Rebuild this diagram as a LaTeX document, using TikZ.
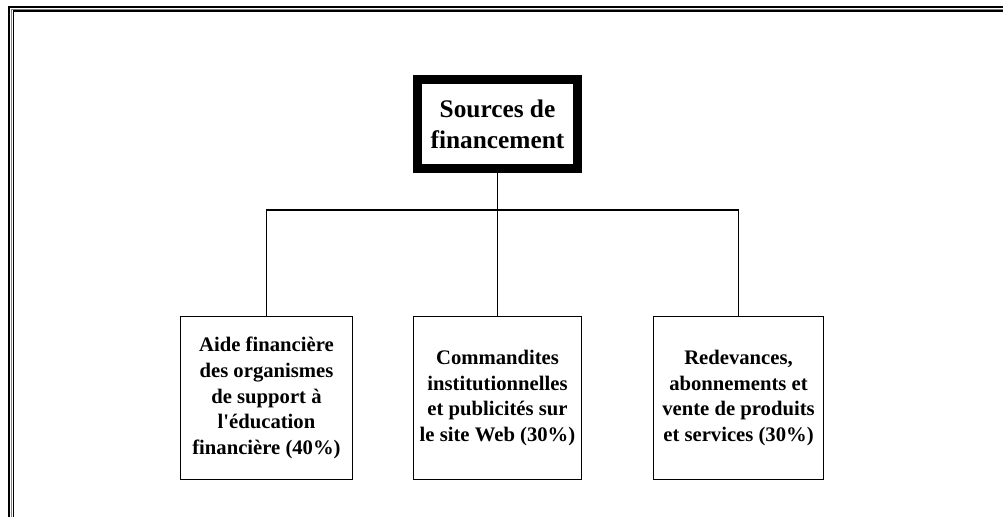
\documentclass[tikz,border=0pt]{standalone}
\usepackage{fontspec}
\setmainfont{Liberation Serif}
\usetikzlibrary{positioning}

\begin{document}
\begin{tikzpicture}[x=0.75pt,y=-0.75pt,
  titre/.style={rectangle,draw,line width=6.75pt,minimum width=120pt,minimum height=66.75pt,inner sep=2pt,align=center,font=\fontsize{19}{23.25}\selectfont\bfseries},
  boite/.style={rectangle,draw,line width=0.8pt,minimum height=122.25pt,inner sep=2pt,align=center,font=\fontsize{15.5}{19.2}\selectfont\bfseries},
  lien/.style={line width=0.8pt}]
\clip (0,0) rectangle (1003,517);
% cadre de la page
\draw[line width=1.6pt] (9,7) rectangle (1030,540);
\draw[gray,line width=0.6pt] (11,9) rectangle (1030,540);
\draw[line width=1.2pt] (13.5,11) rectangle (1030,540);

% description et nommage des noeuds
\node (SF) at (497.5,124) [titre] {Sources de\\financement};
\node (AF) at (266.5,398) [boite,minimum width=129pt] {Aide financière\\des organismes\\de support à\\l\textquotesingle éducation\\financière (40\%)};
\node (CI) at (497.5,398) [boite,minimum width=126pt] {Commandites\\institutionnelles\\et publicités sur\\le site Web (30\%)};
\node (RA) at (738.5,398) [boite,minimum width=127.5pt] {Redevances,\\abonnements et\\vente de produits\\et services (30\%)};

% description des arêtes
\draw[lien] (SF.south) --++ (0,37) -| (AF.north);
\draw[lien] (SF.south) --++ (0,37) -| (CI.north);
\draw[lien] (SF.south) --++ (0,37) -| (RA.north);
\end{tikzpicture}
\end{document}
